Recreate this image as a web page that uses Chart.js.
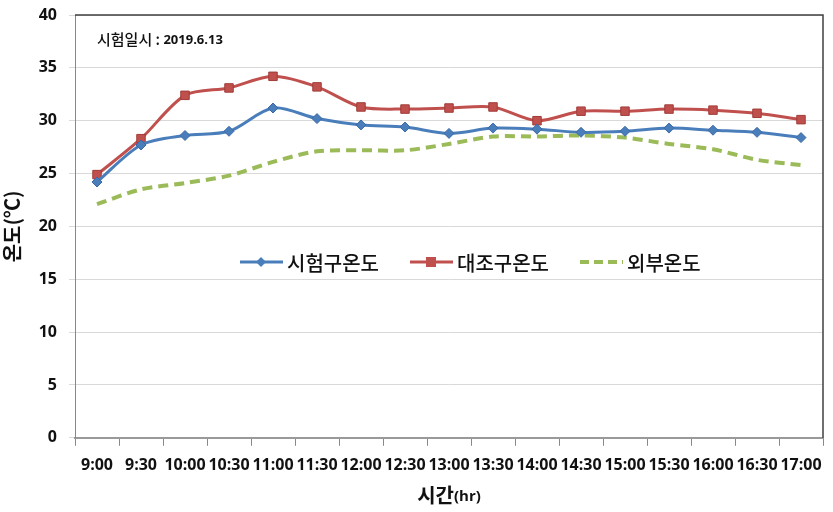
<!DOCTYPE html>
<html>
<head>
<meta charset="utf-8">
<script src="https://cdn.jsdelivr.net/npm/chart.js@4/dist/chart.umd.min.js"></script>
<style>
  html, body { margin: 0; padding: 0; background: #fff; }
  #wrap { width: 833px; height: 512px; }
</style>
</head>
<body>
<div id="wrap"><canvas id="tempChart" width="833" height="512"></canvas></div>
<script>
// data
const timeLabels = ['9:00', '9:30', '10:00', '10:30', '11:00', '11:30', '12:00', '12:30', '13:00',
    '13:30', '14:00', '14:30', '15:00', '15:30', '16:00', '16:30', '17:00'];
const testTemp = [24.2, 27.7, 28.6, 29.0, 31.2, 30.2, 29.6, 29.4, 28.8, 29.3, 29.2, 28.9, 29.0, 29.3, 29.1, 28.9, 28.4];
const controlTemp = [24.9, 28.3, 32.4, 33.1, 34.2, 33.2, 31.3, 31.1, 31.2, 31.3, 30.0, 30.9, 30.9, 31.1, 31.0, 30.7, 30.1];
const outsideTemp = [22.1, 23.5, 24.1, 24.8, 26.1, 27.1, 27.2, 27.2, 27.8, 28.5, 28.5, 28.6, 28.4, 27.8, 27.3, 26.3, 25.8];
const seriesNames = ['시험구온도', '대조구온도', '외부온도'];

const BLUE = '#4a7ebb';
const RED = '#c0504d';
const GREEN = '#9bbb59';
const numFont = "'Open Sans', 'Liberation Sans', sans-serif";
const krFont = "'Noto Sans CJK KR', sans-serif";

// date note + legend inside the plot, x title, and the dark frame on top/right
const overlayPlugin = {
    id: 'overlay',
    afterDraw(chart) {
        const ctx = chart.ctx;
        const area = chart.chartArea;
        ctx.save();

        ctx.strokeStyle = '#404040';
        ctx.lineWidth = 1.5;
        ctx.beginPath();
        ctx.moveTo(area.left, area.top);
        ctx.lineTo(area.right, area.top);
        ctx.lineTo(area.right, area.bottom);
        ctx.stroke();

        // date note
        ctx.fillStyle = '#111';
        ctx.textBaseline = 'middle';
        ctx.textAlign = 'left';
        ctx.font = '500 15px ' + krFont;
        ctx.fillText('시험일시 :', 97, 39);
        const w = ctx.measureText('시험일시 : ').width;
        ctx.font = 'bold 13px ' + numFont;
        ctx.fillText('2019.6.13', 97 + w, 40);

        // x axis title with smaller "(hr)"
        ctx.font = 'bold 20px ' + krFont;
        const t1 = '시간';
        const w1 = ctx.measureText(t1).width;
        ctx.font = 'bold 15px ' + numFont;
        const w2 = ctx.measureText('(hr)').width;
        const sx = (area.left + area.right) / 2 - (w1 + w2) / 2;
        ctx.font = 'bold 20px ' + krFont;
        ctx.fillText(t1, sx, 495);
        ctx.font = 'bold 15px ' + numFont;
        ctx.fillText('(hr)', sx + w1, 497);

        // legend
        const items = [
            { x: 240, color: BLUE, style: 'diamond' },
            { x: 410, color: RED, style: 'square' },
            { x: 580, color: GREEN, style: 'dash' }
        ];
        const y = 262;
        items.forEach((it, i) => {
            ctx.strokeStyle = it.color;
            ctx.fillStyle = it.color;
            if (it.style === 'dash') {
                ctx.lineWidth = 4;
                ctx.setLineDash([9, 5]);
            } else {
                ctx.lineWidth = 3;
                ctx.setLineDash([]);
            }
            ctx.beginPath();
            ctx.moveTo(it.x, y);
            ctx.lineTo(it.x + 43, y);
            ctx.stroke();
            ctx.setLineDash([]);
            const cx = it.x + 21;
            if (it.style === 'diamond') {
                ctx.beginPath();
                ctx.moveTo(cx, y - 5);
                ctx.lineTo(cx + 5, y);
                ctx.lineTo(cx, y + 5);
                ctx.lineTo(cx - 5, y);
                ctx.closePath();
                ctx.fill();
            } else if (it.style === 'square') {
                ctx.fillRect(cx - 5, y - 5, 10, 10);
            }
            ctx.fillStyle = '#111';
            ctx.font = '500 20px ' + krFont;
            ctx.fillText(seriesNames[i], it.x + 47, y + 1);
        });
        ctx.restore();
    }
};

const ctx = document.getElementById('tempChart').getContext('2d');
new Chart(ctx, {
    type: 'line',
    data: {
        labels: timeLabels,
        datasets: [{
            label: seriesNames[0],
            data: testTemp,
            borderColor: BLUE,
            backgroundColor: BLUE,
            borderWidth: 3,
            pointStyle: 'rectRot',
            pointRadius: 5,
            pointBorderWidth: 1,
            pointBorderColor: '#3a6aa5',
            tension: 0.3
        }, {
            label: seriesNames[1],
            data: controlTemp,
            borderColor: RED,
            backgroundColor: RED,
            borderWidth: 3,
            pointStyle: 'rect',
            pointRadius: 6,
            pointBorderWidth: 1,
            pointBorderColor: '#a03c39',
            tension: 0.3
        }, {
            label: seriesNames[2],
            data: outsideTemp,
            borderColor: GREEN,
            borderWidth: 4,
            borderDash: [10, 6],
            pointRadius: 0,
            tension: 0.3
        }]
    },
    options: {
        responsive: false,
        animation: false,
        layout: { padding: { top: 0, right: 10, left: 0, bottom: 27 } },
        plugins: {
            legend: { display: false },
            tooltip: { enabled: false }
        },
        scales: {
            x: {
                offset: true,
                grid: {
                    offset: true,
                    drawOnChartArea: false,
                    tickLength: 8,
                    color: '#888'
                },
                border: { color: '#999', width: 2 },
                ticks: {
                    color: '#111',
                    font: { family: numFont, size: 16, weight: 'bold' },
                    maxRotation: 0,
                    autoSkip: false,
                    padding: 10
                }
            },
            y: {
                min: 0,
                max: 40,
                afterFit(scale) {
                    scale.width = 75;
                    scale.paddingTop = 15;
                },
                ticks: {
                    stepSize: 5,
                    color: '#111',
                    font: { family: numFont, size: 16, weight: 'bold' },
                    padding: 12
                },
                grid: {
                    color: '#d9d9d9',
                    tickLength: 6,
                    drawTicks: true
                },
                border: { color: '#888', width: 1 },
                title: {
                    display: true,
                    text: '온도(℃)',
                    color: '#111',
                    font: { family: krFont, size: 20, weight: 'bold' },
                    padding: { top: 0, bottom: 6 }
                }
            }
        }
    },
    plugins: [overlayPlugin]
});
</script>
</body>
</html>
